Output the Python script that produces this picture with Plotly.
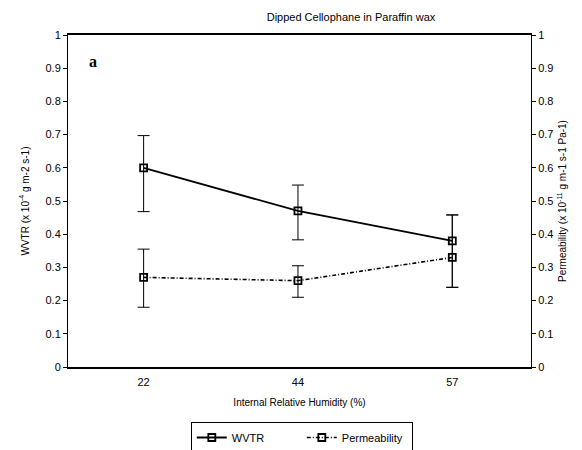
import plotly.graph_objects as go

humidity = ["22", "44", "57"]
wvtr = [0.60, 0.47, 0.38]
wvtr_err_plus = [0.097, 0.078, 0.078]
wvtr_err_minus = [0.132, 0.087, 0.14]
perm = [0.27, 0.26, 0.33]
perm_err_plus = [0.085, 0.045, 0.128]
perm_err_minus = [0.09, 0.05, 0.09]
y_ticks = [0, 0.1, 0.2, 0.3, 0.4, 0.5, 0.6, 0.7, 0.8, 0.9, 1]
y_tick_text = ["0", "0.1", "0.2", "0.3", "0.4", "0.5", "0.6", "0.7", "0.8", "0.9", "1"]

font = "Liberation Sans"

fig = go.Figure()
fig.add_trace(go.Scatter(
    x=humidity, y=wvtr, name="WVTR", mode="lines+markers",
    line=dict(color="black", width=1.8),
    marker=dict(symbol="square-open", size=7, color="black", line=dict(width=1.8)),
    error_y=dict(type="data", symmetric=False, array=wvtr_err_plus, arrayminus=wvtr_err_minus,
                 color="black", thickness=1, width=6),
))
fig.add_trace(go.Scatter(
    x=humidity, y=perm, name="Permeability", mode="lines+markers", yaxis="y2",
    line=dict(color="black", width=1.6, dash="4px,2px,1px,2px"),
    marker=dict(symbol="square-open", size=7, color="black", line=dict(width=1.8)),
    error_y=dict(type="data", symmetric=False, array=perm_err_plus, arrayminus=perm_err_minus,
                 color="black", thickness=1, width=6),
))

fig.update_layout(
    width=582, height=450,
    margin=dict(l=60, r=59, t=27, b=91),
    paper_bgcolor="white", plot_bgcolor="white",
    font=dict(family=font, size=11, color="black"),
    showlegend=True,
    legend=dict(orientation="h", x=0.505, xanchor="center", yref="container", y=0.08, yanchor="top",
                bordercolor="black", borderwidth=1, font=dict(size=11),
                entrywidth=65, tracegroupgap=0),
    title=dict(text="Dipped Cellophane in Paraffin wax", x=343/582, xanchor="center",
               y=1 - 9/450, yanchor="middle", font=dict(size=11, family=font), automargin=False),
    xaxis=dict(type="category", range=[-0.49, 2.51], showline=True, linecolor="black",
               linewidth=1.5, mirror=True, ticks="", showgrid=False, zeroline=False,
               automargin=False, ticklabelstandoff=4,
               title=dict(text="Internal Relative Humidity (%)", font=dict(size=10), standoff=12),
               tickfont=dict(size=11)),
    yaxis=dict(range=[0, 1], tickvals=y_ticks, ticktext=y_tick_text, showline=True,
               linecolor="black", linewidth=1, ticks="outside", ticklen=4, tickcolor="black",
               showgrid=False, zeroline=False, automargin=False,
               title=dict(text="WVTR (x 10<sup>-4</sup> g m-2 s-1)", font=dict(size=10), standoff=14)),
    yaxis2=dict(range=[0, 1], tickvals=y_ticks, ticktext=y_tick_text, overlaying="y", side="right",
                showline=True, linecolor="black", linewidth=1, ticks="outside", ticklen=4,
                tickcolor="black", showgrid=False, zeroline=False, automargin=False,
                title=dict(text="Permeability (x 10<sup>-11</sup> g m-1 s-1 Pa-1)", font=dict(size=10), standoff=6)),
    annotations=[dict(text="<b>a</b>", x=0.054, y=0.919, xref="paper", yref="paper",
                      xanchor="center", yanchor="middle",
                      showarrow=False, font=dict(family="Liberation Serif", size=16))],
)

fig.write_html("out.html")
